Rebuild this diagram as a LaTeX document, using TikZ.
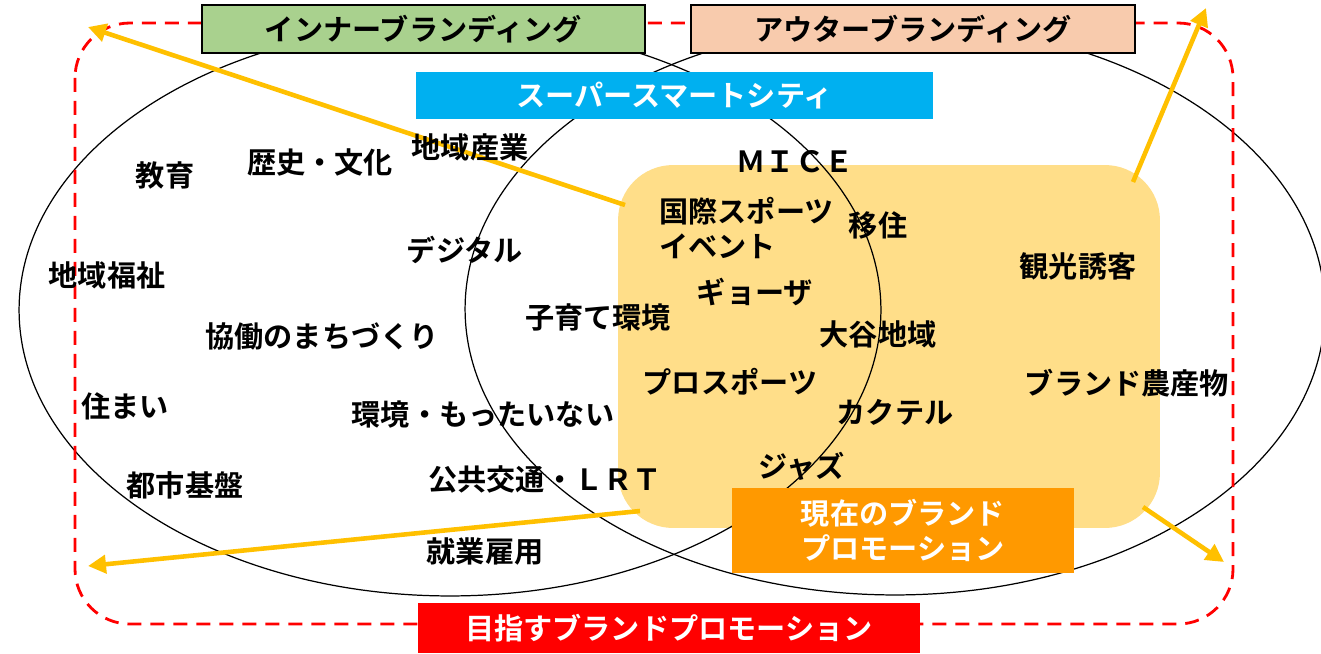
\documentclass[tikz,border=0pt]{standalone}
\usepackage{fontspec}
\setmainfont{Noto Sans CJK JP}[BoldFont={Noto Sans CJK JP Bold}]
\usetikzlibrary{arrows.meta}
\definecolor{boxgreen}{HTML}{A9D18E}
\definecolor{boxtan}{HTML}{F8CBAD}
\definecolor{boxblue}{HTML}{00B0F0}
\definecolor{boxorange}{HTML}{FF9900}
\definecolor{areayellow}{HTML}{FFDE89}
\definecolor{arrowgold}{HTML}{FFC000}
\definecolor{dashred}{HTML}{FF0000}
\begin{document}
\begin{tikzpicture}[x=0.02cm,y=-0.02cm,
  lbl/.style={font=\fontsize{16.6}{19.5}\selectfont\bfseries, inner sep=0pt, text=black},
  titlebox/.style={draw=black, line width=0.8pt, inner sep=0pt, font=\fontsize{16.6}{19.5}\selectfont\bfseries},
  flatbox/.style={inner sep=0pt, text=white, font=\fontsize{16.6}{19.5}\selectfont\bfseries},
  ring/.style={draw=black, line width=0.7pt},
  goldarrow/.style={draw=arrowgold, line width=2.6pt, -{Triangle[length=0.36cm,width=0.36cm]}},
  goal/.style={draw=dashred, line width=1.6pt, dash pattern=on 0.28cm off 0.18cm, rounded corners=1.1cm}
]
\useasboundingbox (0,0) rectangle (1321,653);
\fill[white] (0,0) rectangle (1321,653);

% current brand area
\node[fill=areayellow, rounded corners=1.1cm, minimum width=10.84cm, minimum height=7.26cm, inner sep=0pt] (area) at (889,346.5) {};

% two circles
\draw[ring] (450,310) ellipse [x radius=8.62cm, y radius=5.72cm];
\draw[ring] (895,309) ellipse [x radius=8.60cm, y radius=5.72cm];

% goal frame
\draw[goal] (75,23) rectangle (1233,624);

% arrows
\coordinate (s1) at (625,205);
\coordinate (e1) at (88,27);
\coordinate (s2) at (1133,182);
\coordinate (e2) at (1206,8);
\coordinate (s3) at (640,511);
\coordinate (e3) at (88,566);
\coordinate (s4) at (1143,507);
\coordinate (e4) at (1224,562);
\draw[goldarrow] (s1) -- (e1);
\draw[goldarrow] (s2) -- (e2);
\draw[goldarrow] (s3) -- (e3);
\draw[goldarrow] (s4) -- (e4);

% boxes
\node[titlebox, fill=boxgreen, minimum width=8.86cm, minimum height=0.96cm] (inner) at (423.5,29) {インナーブランディング};
\node[titlebox, fill=boxtan, minimum width=8.88cm, minimum height=0.96cm] (outer) at (913,29) {アウターブランディング};
\node[flatbox, fill=boxblue, minimum width=10.34cm, minimum height=0.94cm] (ssc) at (674.5,95.5) {スーパースマートシティ};
\node[flatbox, fill=dashred, minimum width=10.04cm, minimum height=1.0cm] (target) at (669,628) {目指すブランドプロモーション};
\node[flatbox, fill=boxorange, minimum width=6.84cm, minimum height=1.7cm, align=center] (current) at (903,530.5) {現在のブランド\\[0.02cm]プロモーション};

% labels
\node[lbl] (kyoiku) at (165,175) {教育};
\node[lbl] (rekishi) at (320,162) {歴史・文化};
\node[lbl] (sangyo) at (470,147) {地域産業};
\node[lbl] (mice) at (795,162) {ＭＩＣＥ};
\node[lbl, anchor=west, align=left] (sports) at (659,228) {国際スポーツ\\イベント};
\node[lbl] (iju) at (878,225) {移住};
\node[lbl] (digital) at (465,250) {デジタル};
\node[lbl] (kanko) at (1078,266) {観光誘客};
\node[lbl] (fukushi) at (107,275) {地域福祉};
\node[lbl] (gyoza) at (755,292) {ギョーザ};
\node[lbl] (kosodate) at (598,317) {子育て環境};
\node[lbl] (kyodo) at (322,336) {協働のまちづくり};
\node[lbl] (oya) at (878,334) {大谷地域};
\node[lbl] (pro) at (730,382) {プロスポーツ};
\node[lbl] (nosan) at (1127,383) {ブランド農産物};
\node[lbl] (sumai) at (125,406) {住まい};
\node[lbl] (kankyo) at (483,414) {環境・もったいない};
\node[lbl] (cocktail) at (895,412) {カクテル};
\node[lbl] (jazz) at (802,466) {ジャズ};
\node[lbl] (toshi) at (185,485) {都市基盤};
\node[lbl] (kotsu) at (545,479) {公共交通・ＬＲＴ};
\node[lbl] (shugyo) at (485,551) {就業雇用};
\end{tikzpicture}
\end{document}
